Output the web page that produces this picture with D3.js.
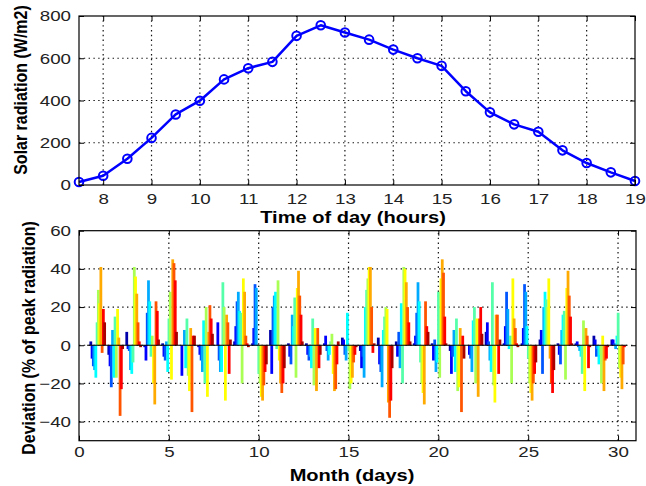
<!DOCTYPE html>
<html>
<head>
<meta charset="utf-8">
<script src="https://cdn.jsdelivr.net/npm/d3@7"></script>
<style>
  html, body { margin: 0; padding: 0; background: #fff; }
  svg { display: block; }
</style>
</head>
<body>
<div id="chart"></div>
<script>
// ---- top panel: solar radiation through the day ----
const hours = [7.5, 8, 8.5, 9, 9.5, 10, 10.5, 11, 11.5, 12, 12.5, 13,
               13.5, 14, 14.5, 15, 15.5, 16, 16.5, 17, 17.5, 18, 18.5, 19];
const radiation = [14, 44, 124, 223, 334, 399, 500, 553, 583, 706, 756, 722,
                   688, 641, 600, 564, 444, 344, 287, 252, 164, 104, 60, 19];
const hourTicks = [8, 9, 10, 11, 12, 13, 14, 15, 16, 17, 18, 19];
const radiationTicks = [0, 200, 400, 600, 800];

// ---- bottom panel: deviation per day, one bar per sub-series ----
const days = [1, 2, 3, 4, 5, 6, 7, 8, 9, 10, 11, 12, 13, 14, 15,
              16, 17, 18, 19, 20, 21, 22, 23, 24, 25, 26, 27, 28, 29, 30];
const deviation = [
  [2, -7, -11, -13, -17, 12, 29, 22, 41, -4, 19, 12],
  [-5, -11, -22, 8, -17, 15, -17, 19, 4, -37, -23, -2],
  [7, -2, -3, -13, -15, -9, 41, 36, 27, 12, 2, -1],
  [-1, -8, 17, 34, 23, -6, 5, -20, -31, 23, 18, 3],
  [1, -6, -8, 2, -14, 14, 28, -18, 45, 43, 34, 7],
  [0, -16, 0, 8, -12, 14, -16, -24, 9, -35, 5, 5],
  [-1, -5, -8, -14, 13, -20, 20, -27, 7, 21, 14, 6],
  [0, 12, -8, -14, -14, 33, 20, -29, 16, 12, -15, 3],
  [2, 10, 23, 28, 18, 17, -20, 35, 28, 5, 1, -1],
  [1, 9, 32, 30, 0, -15, -20, -27, -29, -21, -14, -10],
  [8, -15, 20, 26, 28, -2, 34, -8, -20, -25, -20, -12],
  [1, -6, -10, 16, 10, 25, -17, 30, 39, 26, 16, 2],
  [1, -5, -8, -6, -12, 14, -21, 9, -24, 9, -12, -5],
  [1, 5, -3, -8, -5, 2, 6, -15, -24, -23, -10, 2],
  [4, 3, -5, -8, 17, -3, -23, -20, -17, -9, -5, -1],
  [-3, -12, -6, -17, 20, 29, 35, 41, 41, 20, -4, 1],
  [4, -10, -14, -22, 8, 15, 20, 19, -30, -38, -29, -12],
  [2, -6, 7, -12, 22, -20, 41, 40, 33, 20, 12, 2],
  [1, 5, 17, 33, 23, -9, -20, -25, -31, 23, 10, 7],
  [1, -8, 3, -14, -9, 28, -17, 35, 45, 38, 15, 1],
  [-3, -15, -6, 8, -14, 14, -24, -22, 9, -35, 5, -7],
  [0, -5, -7, -14, 13, 20, -20, 14, -27, 14, 20, 6],
  [7, 12, 2, -8, -14, 33, -21, -30, 16, 16, -15, 3],
  [1, 10, 28, 19, -2, 5, -20, 35, 14, 9, 1, -1],
  [1, 9, 32, 28, 10, -7, -20, -25, -29, -20, -15, -9],
  [3, 8, -15, 20, 28, 24, 20, 35, -7, -20, -25, -13],
  [1, -5, -10, 8, 16, 18, -18, 30, 39, 26, 15, 1],
  [1, 2, -1, -3, -6, -15, 13, -24, 9, 5, -12, -1],
  [5, 3, -6, -2, -10, -5, -20, 5, -24, -8, -7, -1],
  [3, 3, 1, -2, 5, 17, -12, -17, -23, -10, -1, 0]
];
const dayTicks = [0, 5, 10, 15, 20, 25, 30];
const deviationTicks = [-40, -20, 0, 20, 40, 60];

// jet colormap, 12 steps
const seriesColors = ["#0000aa", "#0000ff", "#0055ff", "#00aaff", "#00ffff", "#55ffaa",
                      "#aaff55", "#ffff00", "#ffaa00", "#ff5500", "#ff0000", "#aa0000"];

const FONT = "'Liberation Sans', Arial, sans-serif";
const width = 646, height = 486;

const svg = d3.select("#chart").append("svg")
  .attr("width", width)
  .attr("height", height);

// shared helpers
function grid(g, xs, ys, x, y) {
  g.selectAll("line.vx").data(xs).join("line")
    .attr("x1", d => x(d)).attr("x2", d => x(d))
    .attr("y1", y.range()[0]).attr("y2", y.range()[1]);
  g.selectAll("line.hy").data(ys).join("line")
    .attr("y1", d => y(d)).attr("y2", d => y(d))
    .attr("x1", x.range()[0]).attr("x2", x.range()[1]);
  g.selectAll("line")
    .attr("stroke", "#111")
    .attr("stroke-width", 1.2)
    .attr("stroke-dasharray", "1.4,3.4");
}

function frame(x, y, xTicks, yTicks, xPad) {
  const [x0, x1] = x.range(), [y0, y1] = y.range();
  const tickText = t => t.selectAll("text")
    .attr("font-family", FONT)
    .attr("font-size", 15)
    .attr("fill", "#222");

  svg.append("g").attr("transform", `translate(0,${y0})`)
    .call(d3.axisBottom(x).tickValues(xTicks).tickSizeInner(-5).tickSizeOuter(0)
      .tickPadding(xPad).tickFormat(d3.format("d")))
    .call(g => g.select(".domain").remove())
    .call(tickText)
    .call(g => g.selectAll("text").attr("transform", "scale(1.25,1)"));

  svg.append("g").attr("transform", `translate(${x0},0)`)
    .call(d3.axisLeft(y).tickValues(yTicks).tickSizeInner(-5).tickSizeOuter(0)
      .tickPadding(6.4).tickFormat(d3.format("d")))
    .call(g => g.select(".domain").remove())
    .call(tickText)
    .call(g => g.selectAll("text").attr("transform", "scale(1.25,1)"));

  svg.append("g").attr("transform", `translate(0,${y1})`)
    .call(d3.axisTop(x).tickValues(xTicks).tickSizeInner(-5).tickSizeOuter(0).tickFormat(""))
    .call(g => g.select(".domain").remove());

  svg.append("g").attr("transform", `translate(${x1},0)`)
    .call(d3.axisRight(y).tickValues(yTicks).tickSizeInner(-5).tickSizeOuter(0).tickFormat(""))
    .call(g => g.select(".domain").remove());

  svg.selectAll(".tick line").attr("stroke", "#000");

  svg.append("rect")
    .attr("x", x0).attr("y", y1)
    .attr("width", x1 - x0).attr("height", y0 - y1)
    .attr("fill", "none").attr("stroke", "#000").attr("stroke-width", 1.2);
}

////// Top panel //////
const xTop = d3.scaleLinear().domain([7.5, 19]).range([79, 635]);
const yTop = d3.scaleLinear().domain([0, 800]).range([185, 16]);

svg.append("g").call(grid, hourTicks.filter(t => t < 19), radiationTicks.filter(t => t > 0 && t < 800), xTop, yTop);

const pts = hours.map((h, i) => [h, radiation[i]]);
svg.append("path")
  .datum(pts)
  .attr("fill", "none")
  .attr("stroke", "#0000ff")
  .attr("stroke-width", 2.5)
  .attr("stroke-linejoin", "round")
  .attr("d", d3.line().x(d => xTop(d[0])).y(d => yTop(d[1])));

svg.append("g").selectAll("circle")
  .data(pts)
  .join("circle")
  .attr("cx", d => xTop(d[0]))
  .attr("cy", d => yTop(d[1]))
  .attr("r", 4.3)
  .attr("fill", "none")
  .attr("stroke", "#0000ff")
  .attr("stroke-width", 2);

frame(xTop, yTop, hourTicks, radiationTicks, 8);

svg.append("text")
  .attr("transform", "translate(353,223) scale(1.18,1)")
  .attr("text-anchor", "middle")
  .attr("font-family", FONT).attr("font-weight", "bold").attr("font-size", 17)
  .text("Time of day (hours)");

svg.append("text")
  .attr("transform", "translate(27,90) scale(1.1,1) rotate(-90)")
  .attr("text-anchor", "middle")
  .attr("font-family", FONT).attr("font-weight", "bold").attr("font-size", 16)
  .text("Solar radiation (W/m2)");

////// Bottom panel //////
const xBot = d3.scaleLinear().domain([0, 31]).range([79, 636]);
const yBot = d3.scaleLinear().domain([-50, 60]).range([440.7, 230.7]);
const inner = d3.scaleBand().domain(d3.range(seriesColors.length)).range([-0.42, 0.42]);
const barW = (xBot(1) - xBot(0)) * inner.bandwidth() * 2.2;

svg.append("g").call(grid, dayTicks.filter(t => t > 0), deviationTicks.filter(t => t < 60), xBot, yBot);

const barData = [];
days.forEach((day, di) => {
  deviation[di].forEach((v, si) => barData.push({ day, si, v }));
});

svg.append("g").selectAll("rect")
  .data(barData)
  .join("rect")
  .attr("x", d => xBot(d.day + inner(d.si)))
  .attr("width", barW)
  .attr("y", d => yBot(Math.max(0, d.v)))
  .attr("height", d => Math.abs(yBot(d.v) - yBot(0)))
  .attr("fill", d => seriesColors[d.si]);

svg.append("line")
  .attr("x1", xBot(0.45)).attr("x2", xBot(30.5))
  .attr("y1", yBot(0)).attr("y2", yBot(0))
  .attr("stroke", "#000").attr("stroke-width", 1.2);

frame(xBot, yBot, dayTicks, deviationTicks, 6);

svg.append("text")
  .attr("transform", "translate(352,481) scale(1.18,1)")
  .attr("text-anchor", "middle")
  .attr("font-family", FONT).attr("font-weight", "bold").attr("font-size", 17)
  .text("Month (days)");

svg.append("text")
  .attr("transform", "translate(35,338) scale(1.1,1) rotate(-90)")
  .attr("text-anchor", "middle")
  .attr("font-family", FONT).attr("font-weight", "bold").attr("font-size", 16)
  .text("Deviation (% of peak radiation)");
</script>
</body>
</html>
